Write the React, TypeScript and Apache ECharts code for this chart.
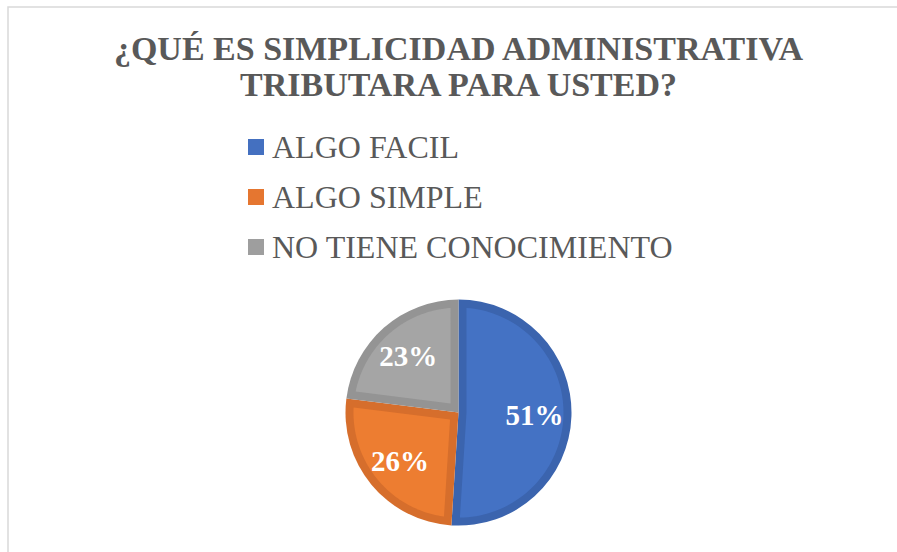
import React, { useEffect, useRef } from "react";
import * as echarts from "echarts";

const titleText = "¿QUÉ ES SIMPLICIDAD ADMINISTRATIVA\nTRIBUTARA PARA USTED?";
const categories = ["ALGO FACIL", "ALGO SIMPLE", "NO TIENE CONOCIMIENTO"];
const values = [51, 26, 23];
const fillColors = ["#4472C4", "#ED7D31", "#A5A5A5"];
const edgeColors = ["#3B64AE", "#D66E2C", "#949494"];
const legendColors = ["#4470C0", "#E57630", "#9E9E9E"];

const FONT = "'Liberation Serif', 'Times New Roman', serif";
const CX = 458.5;
const CY = 412.6;
const R = 113;
const INSET = 8;
const LABEL_R = 76;

export default function App() {
  const ref = useRef<HTMLDivElement>(null);
  useEffect(() => {
    if (!ref.current) return;
    const chart = echarts.init(ref.current, null, { renderer: "svg" });
    const total = values.reduce((a, b) => a + b, 0);
    const dir = (phi: number) => [Math.sin(phi), -Math.cos(phi)];

    const renderItem = (params: any, api: any) => {
      const i = params.dataIndex;
      let start = 0;
      for (let j = 0; j < i; j++) start += values[j];
      const a0 = (start / total) * Math.PI * 2;
      const a1 = ((start + (api.value(1) as number)) / total) * Math.PI * 2;
      const theta = a1 - a0;
      const mid = (a0 + a1) / 2;
      const bis = dir(mid);
      const apexDist = theta < Math.PI ? INSET / Math.sin(theta / 2) : INSET;
      const apex = [CX + bis[0] * apexDist, CY + bis[1] * apexDist];
      const rIn = R - INSET;
      const da = Math.asin(INSET / rIn);
      const pts: number[][] = [apex];
      const n = 80;
      for (let k = 0; k <= n; k++) {
        const a = a0 + da + ((a1 - a0 - 2 * da) * k) / n;
        const d = dir(a);
        pts.push([CX + d[0] * rIn, CY + d[1] * rIn]);
      }
      const ld = dir(mid);
      return {
        type: "group",
        children: [
          {
            type: "polygon",
            shape: { points: pts },
            style: { fill: fillColors[i], stroke: "none" },
          },
          {
            type: "text",
            x: CX + ld[0] * LABEL_R,
            y: CY + ld[1] * LABEL_R,
            style: {
              text: Math.round((api.value(1) / total) * 100) + "%",
              fill: "#FFFFFF",
              font: `bold 29px ${FONT}`,
              align: "center",
              verticalAlign: "middle",
            },
            z2: 10,
          },
        ],
      };
    };

    chart.setOption({
      animation: false,
      backgroundColor: "#FFFFFF",
      legend: {
        orient: "vertical",
        left: 248,
        top: 131,
        padding: 0,
        itemWidth: 16,
        itemHeight: 16,
        itemGap: 18,
        icon: "rect",
        selectedMode: false,
        data: categories.map((c, i) => ({
          name: c,
          icon: "rect",
          itemStyle: { color: legendColors[i] },
        })),
        textStyle: {
          fontFamily: FONT,
          fontSize: 32,
          color: "#595959",
          lineHeight: 32,
          padding: [0, 0, 0, 3],
        },
      },
      graphic: [
        {
          type: "rect",
          shape: { x: 8, y: 7, width: 1000, height: 1000 },
          style: { fill: "none", stroke: "#D9D9D9", lineWidth: 1.5 },
          silent: true,
        },
        {
          type: "text",
          x: CX,
          y: 30,
          silent: true,
          style: {
            text: titleText,
            font: `bold 34px ${FONT}`,
            fill: "#595959",
            align: "center",
            verticalAlign: "top",
            lineHeight: 36.5,
          },
        },
      ],
      series: [
        {
          type: "pie",
          silent: true,
          center: [CX, CY],
          radius: [0, R],
          startAngle: 90,
          clockwise: true,
          label: { show: false },
          labelLine: { show: false },
          data: categories.map((c, i) => ({
            name: c,
            value: values[i],
            itemStyle: { color: edgeColors[i] },
          })),
        },
        {
          type: "custom",
          coordinateSystem: "none",
          silent: true,
          z: 5,
          renderItem,
          data: values.map((v, i) => [i, v]),
        },
      ],
    });
    return () => chart.dispose();
  }, []);
  return (
    <div
      ref={ref}
      style={{ position: "fixed", left: 0, top: 0, width: 897, height: 552 }}
    />
  );
}
